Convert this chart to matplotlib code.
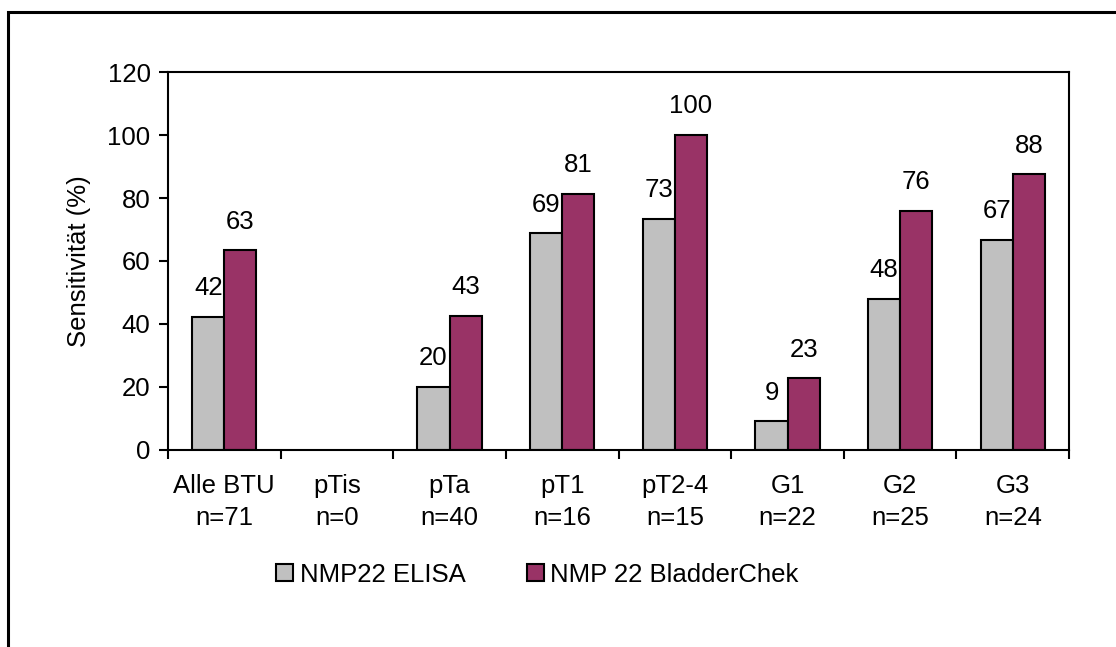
import matplotlib
matplotlib.use("Agg")
import matplotlib.pyplot as plt
import numpy as np
from matplotlib.patches import Rectangle

plt.rcParams["font.family"] = ["Liberation Sans", "DejaVu Sans"]

categories = ["Alle BTU\nn=71", "pTis\nn=0", "pTa\nn=40", "pT1\nn=16",
              "pT2-4\nn=15", "G1\nn=22", "G2\nn=25", "G3\nn=24"]
elisa = [42.3, np.nan, 20.0, 68.75, 73.3, 9.1, 48.0, 66.7]
bladderchek = [63.4, np.nan, 42.5, 81.25, 100.0, 22.7, 76.0, 87.5]
elisa_labels = ["42", "", "20", "69", "73", "9", "48", "67"]
bladderchek_labels = ["63", "", "43", "81", "100", "23", "76", "88"]
series_names = ["NMP22 ELISA", "NMP 22 BladderChek"]
yticks = [0, 20, 40, 60, 80, 100, 120]

FS = 18.5
GRAY = "#C0C0C0"
MAROON = "#993366"

fig = plt.figure(figsize=(11.16, 6.47), dpi=100)
ax = fig.add_axes([0.1505, 0.3045, 0.8075, 0.5842])

x = np.arange(len(categories))
w = 0.285
b1 = ax.bar(x - w / 2, elisa, w, color=GRAY, edgecolor="black", linewidth=1.5, label=series_names[0])
b2 = ax.bar(x + w / 2, bladderchek, w, color=MAROON, edgecolor="black", linewidth=1.5, label=series_names[1])

for bars, labels in ((b1, elisa_labels), (b2, bladderchek_labels)):
    for rect, lab in zip(bars, labels):
        if not lab:
            continue
        ax.annotate(lab, (rect.get_x() + rect.get_width() / 2, rect.get_height()),
                    xytext=(0, 12), textcoords="offset points",
                    ha="center", va="bottom", fontsize=FS)

ax.set_xlim(-0.5, len(categories) - 0.5)
ax.set_ylim(0, 120)
ax.set_yticks(yticks)
ax.set_xticks(np.arange(len(categories) + 1) - 0.5)
ax.set_xticklabels([])
ax.set_xticks(x, minor=True)
ax.set_xticklabels(categories, minor=True, fontsize=FS, linespacing=1.45)
ax.tick_params(axis="x", which="major", direction="out", length=6.5, width=1.5)
ax.tick_params(axis="x", which="minor", length=0, pad=17)
ax.tick_params(axis="y", direction="out", length=6.5, width=1.5, labelsize=FS, pad=6)
for s in ax.spines.values():
    s.set_linewidth(1.5)
ax.set_ylabel("Sensitivität (%)", fontsize=FS, labelpad=12)

fig.legend(handles=[b1, b2], labels=series_names, loc="center",
           bbox_to_anchor=(0.4816, 0.1114), ncol=2, frameon=False, fontsize=FS,
           handlelength=0.65, handleheight=0.65, handletextpad=0.25, columnspacing=2.4)

# outer frame (only left and top edges inside the image)
fig.patches.append(Rectangle((0.0072, -0.2), 1.5, 0.9815 + 0.2, transform=fig.transFigure,
                             fill=False, edgecolor="black", linewidth=2.2))

fig.savefig("out.png", dpi=100)
